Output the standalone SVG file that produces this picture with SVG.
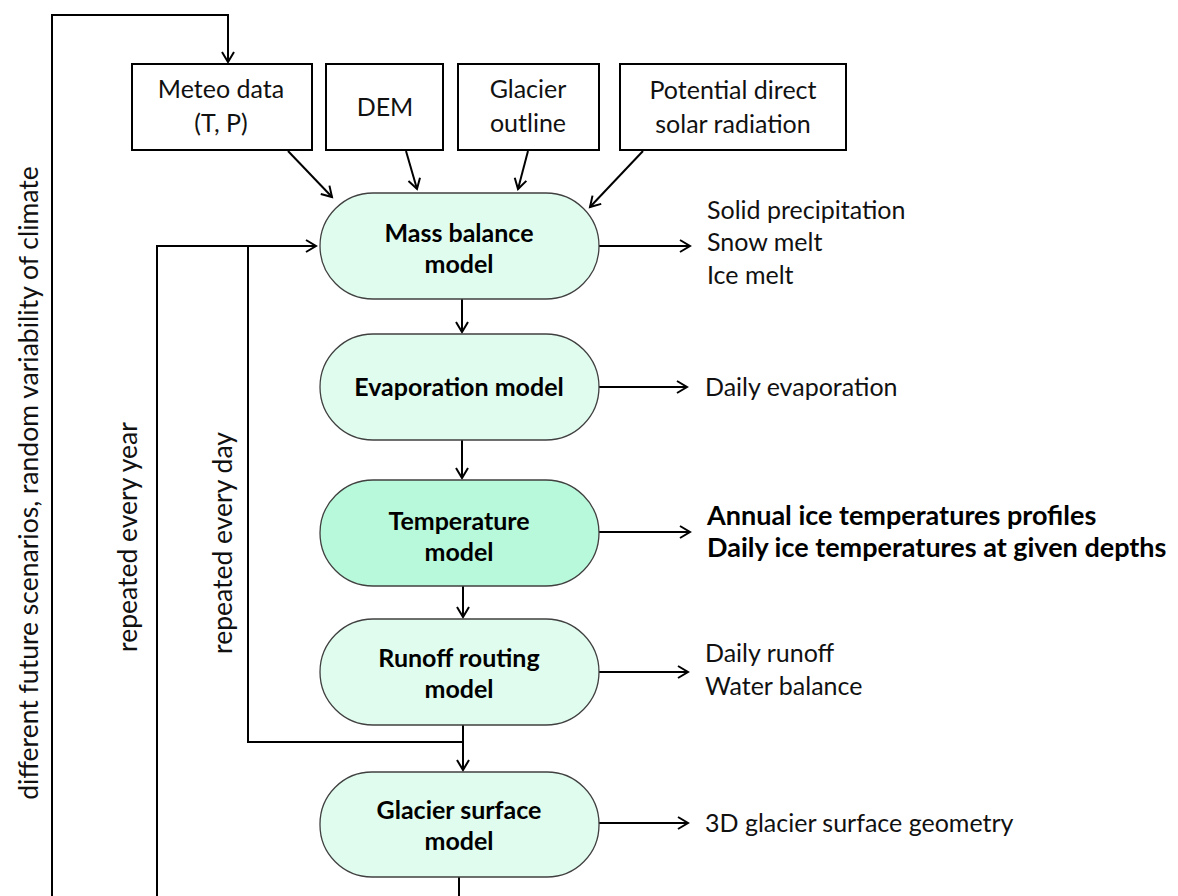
<svg xmlns="http://www.w3.org/2000/svg" width="1178" height="896" viewBox="0 0 1178 896">
<defs>
<marker id="arr" markerUnits="userSpaceOnUse" markerWidth="16" markerHeight="16" refX="12" refY="8" orient="auto" viewBox="0 0 16 16">
<path d="M2,2 L12,8 L2,14" fill="none" stroke="#000" stroke-width="2"/>
</marker>
</defs>
<style>
.box{fill:#fff;stroke:#000;stroke-width:2}
.node{fill:#e0fcef;stroke:#404040;stroke-width:1.3}
.node.hot{fill:#b8f9db}
.t{font-family:Lato,"Open Sans",sans-serif;font-size:25px;fill:#111}
.r{font-family:Lato,"Open Sans",sans-serif;font-size:26.5px;fill:#111}
.b{font-family:Lato,"Open Sans",sans-serif;font-size:25px;font-weight:bold;fill:#000}
.ob{font-family:Lato,"Open Sans",sans-serif;font-size:27px;font-weight:bold;fill:#000}
.c{text-anchor:middle}
.ln{fill:none;stroke:#000;stroke-width:2}
</style>
<rect width="1178" height="896" fill="#fff"/>

<g id="connectors">
<path class="ln" d="M52,896 L52,15 L228,15 L228,62" marker-end="url(#arr)"/>
<path class="ln" d="M157,896 L157,246 L316,246" marker-end="url(#arr)"/>
<path class="ln" d="M463,742 L248,742 L248,246"/>
<path class="ln" d="M288,151 L332,197" marker-end="url(#arr)"/>
<path class="ln" d="M406,151 L417,189" marker-end="url(#arr)"/>
<path class="ln" d="M528,151 L518,189" marker-end="url(#arr)"/>
<path class="ln" d="M643,151 L590,207" marker-end="url(#arr)"/>
<path class="ln" d="M462,299 L462,332" marker-end="url(#arr)"/>
<path class="ln" d="M462,440 L462,478" marker-end="url(#arr)"/>
<path class="ln" d="M463,586 L463,617" marker-end="url(#arr)"/>
<path class="ln" d="M463,725 L463,770" marker-end="url(#arr)"/>
<path class="ln" d="M459,877 L459,896"/>
<path class="ln" d="M599,246 L690,246" marker-end="url(#arr)"/>
<path class="ln" d="M599,387 L687,387" marker-end="url(#arr)"/>
<path class="ln" d="M599,532 L690,532" marker-end="url(#arr)"/>
<path class="ln" d="M599,672 L688,672" marker-end="url(#arr)"/>
<path class="ln" d="M599,823 L688,823" marker-end="url(#arr)"/>
</g>

<g id="meteo">
<rect class="box" x="132" y="64" width="180" height="86"/>
<text class="t c" x="221" y="98">Meteo data</text>
<text class="t c" x="221" y="132">(T, P)</text>
</g>
<g id="dem">
<rect class="box" x="326" y="64" width="117" height="86"/>
<text class="t c" x="385" y="116">DEM</text>
</g>
<g id="outline">
<rect class="box" x="458" y="64" width="141" height="86"/>
<text class="t c" x="528" y="98">Glacier</text>
<text class="t c" x="528" y="132">outline</text>
</g>
<g id="solar">
<rect class="box" x="620" y="64" width="226" height="86"/>
<text class="t c" x="733" y="99">Potential direct</text>
<text class="t c" x="733" y="133">solar radiation</text>
</g>

<g id="mass-balance">
<rect class="node" x="320" y="193" width="279" height="106" rx="53"/>
<text class="b c" x="459" y="242">Mass balance</text>
<text class="b c" x="459" y="273">model</text>
</g>
<g id="evaporation">
<rect class="node" x="320" y="334" width="279" height="106" rx="53"/>
<text class="b c" x="459" y="396">Evaporation model</text>
</g>
<g id="temperature">
<rect class="node hot" x="320" y="480" width="279" height="106" rx="53"/>
<text class="b c" x="459" y="530">Temperature</text>
<text class="b c" x="459" y="561">model</text>
</g>
<g id="runoff">
<rect class="node" x="320" y="619" width="279" height="106" rx="53"/>
<text class="b c" x="459" y="667">Runoff routing</text>
<text class="b c" x="459" y="698">model</text>
</g>
<g id="surface">
<rect class="node" x="320" y="772" width="279" height="105" rx="52"/>
<text class="b c" x="459" y="819">Glacier surface</text>
<text class="b c" x="459" y="850">model</text>
</g>

<g id="outputs">
<text class="t" x="707" y="219">Solid precipitation</text>
<text class="t" x="707" y="251">Snow melt</text>
<text class="t" x="707" y="284">Ice melt</text>
<text class="t" x="705" y="396">Daily evaporation</text>
<text class="ob" x="707" y="525">Annual ice temperatures profiles</text>
<text class="ob" x="707" y="557">Daily ice temperatures at given depths</text>
<text class="t" x="705" y="662">Daily runoff</text>
<text class="t" x="705" y="695">Water balance</text>
<text class="t" x="705" y="832">3D glacier surface geometry</text>
</g>

<g id="loop-labels">
<text class="r c" transform="translate(38,483) rotate(-90)">different future scenarios, random variability of climate</text>
<text class="r c" transform="translate(137,537) rotate(-90)">repeated every year</text>
<text class="r c" transform="translate(232,543) rotate(-90)">repeated every day</text>
</g>
</svg>
